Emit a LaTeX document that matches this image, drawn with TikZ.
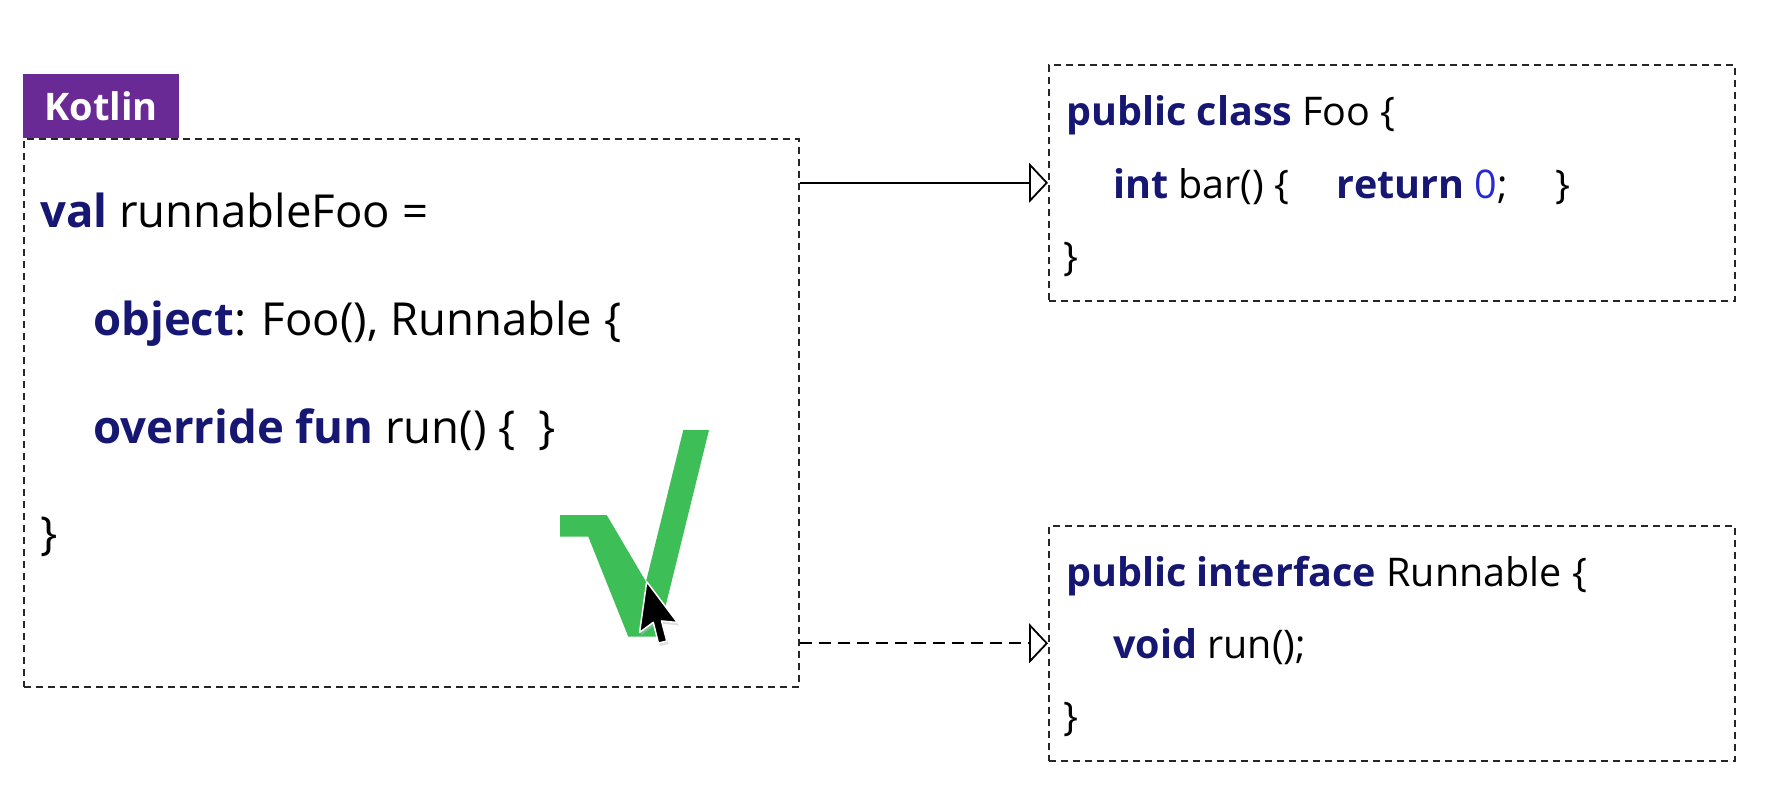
\documentclass[tikz,border=0pt]{standalone}
\usepackage{fontspec}
\setmainfont{Open Sans}
\usetikzlibrary{arrows.meta}

\definecolor{kwblue}{RGB}{22,22,115}
\definecolor{numblue}{RGB}{40,40,215}
\definecolor{ktpurple}{RGB}{105,42,150}
\definecolor{checkgreen}{RGB}{62,190,86}

\newcommand{\kwd}[1]{\textcolor{kwblue}{\textbf{#1}}}

\tikzset{
  codebox/.style={draw=black!85, line width=1.6pt, dash pattern=on 7pt off 5pt,
    anchor=north west, inner sep=0pt, minimum width=#1},
  kttext/.style={font=\fontsize{45.5}{54}\selectfont, anchor=base west, inner sep=0pt},
  javatext/.style={font=\fontsize{39.5}{46}\selectfont, anchor=base west, inner sep=0pt},
  extends/.style={line width=1.8pt,
    -{Triangle[open, length=19pt, width=40pt, line width=1.8pt]}},
  implements/.style={extends, dash pattern=on 12pt off 7pt},
}

\begin{document}
\begin{tikzpicture}[x=1pt, y=-1pt]
\useasboundingbox (0,0) rectangle (1778,790);
\fill[white] (0,0) rectangle (1778,790);

% Kotlin side
\node[codebox=775pt, minimum height=548pt] (kt) at (23,138) {};
\node[fill=ktpurple, text=white, font=\fontsize{38}{44}\selectfont\bfseries,
      anchor=south west, minimum width=156pt, minimum height=64pt, inner sep=0pt]
      (tag) at (23,138) {Kotlin};

\node[kttext] (k1) at (40,227) {\kwd{val} runnableFoo =};
\node[kttext] (k2) at (93,335) {\kwd{object}: Foo(), Runnable \{};
\node[kttext] (k3) at (93,443) {\kwd{override} \kwd{fun} run() \{\hspace{0.5em}\}};
\node[kttext] (k4) at (40,549) {\}};

% Java class Foo
\node[codebox=686pt, minimum height=236pt] (foo) at (1048,64) {};
\node[javatext] (f1) at (1066,125) {\kwd{public} \kwd{class} Foo \{};
\node[javatext] (f2) at (1113,198) {\kwd{int} bar() \{\hspace{1.2em}\kwd{return} \textcolor{numblue}{0};\hspace{1.2em}\}};
\node[javatext] (f3) at (1063,270) {\}};

% Java interface Runnable
\node[codebox=686pt, minimum height=235pt] (run) at (1048,525) {};
\node[javatext] (r1) at (1066,586) {\kwd{public} \kwd{interface} Runnable \{};
\node[javatext] (r2) at (1113,658) {\kwd{void} run();};
\node[javatext] (r3) at (1063,730) {\}};

% inheritance and realisation arrows
\draw[extends] (kt.east |- foo.west) -- (foo.west);
\draw[implements] (kt.east |- run.west) -- (run.west);

% green check mark
\fill[checkgreen] (560,515) -- (606.7,515) -- (646,581.7) -- (683.3,430) -- (709,430)
  -- (658,636.7) -- (628.3,636.7) -- (588.3,536.7) -- (560,536.7) -- cycle;

% mouse pointer
\begin{scope}[shift={(646.7,581.7)}, x=3.2pt, y=-3.2pt, rotate=-8]
  \fill[black!25, opacity=0.5] (0.6,0.8) -- (0.6,16.8) -- (4.4,13.1) -- (6.9,19.3)
    -- (9.4,18.3) -- (6.9,12.3) -- (11.9,12.1) -- cycle;
  \filldraw[fill=black, draw=white, line width=1.5pt, line join=round]
    (0,0) -- (0,16) -- (3.8,12.3) -- (6.3,18.5) -- (8.8,17.5) -- (6.3,11.5) -- (11.3,11.3) -- cycle;
\end{scope}
\end{tikzpicture}
\end{document}
